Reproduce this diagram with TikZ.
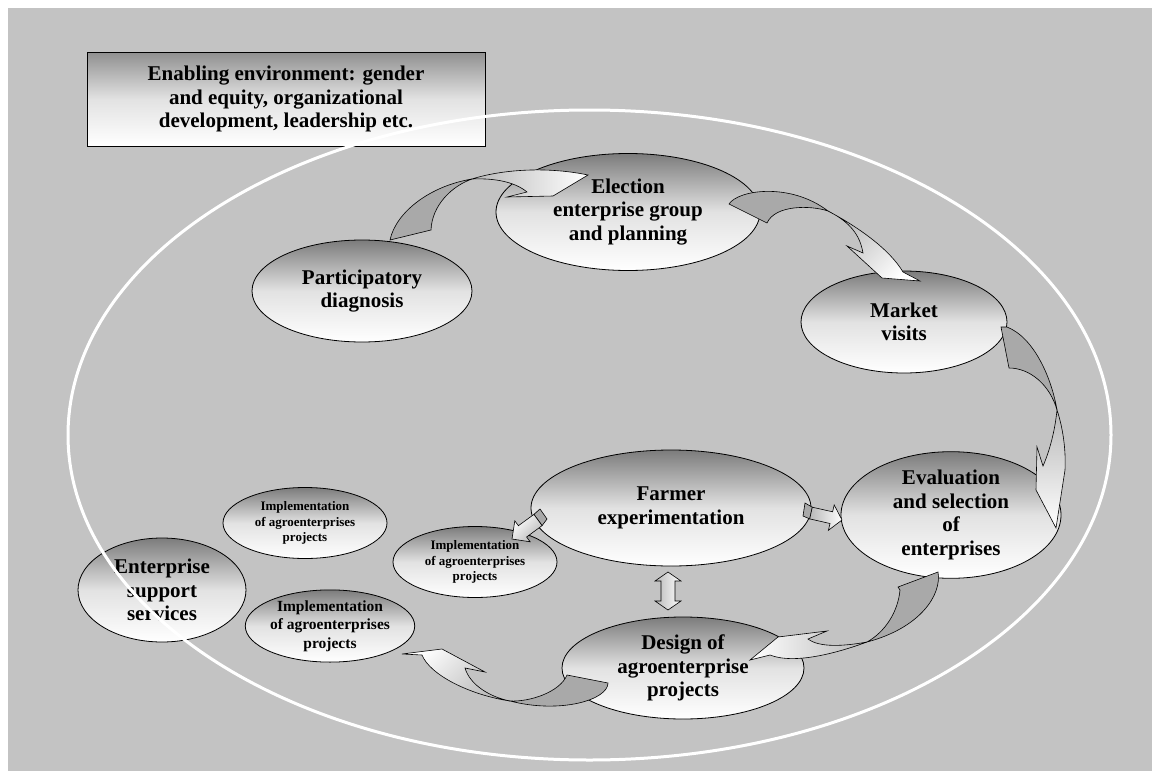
\documentclass[tikz,border=0pt]{standalone}
\usepackage{fontspec}
\setmainfont{Liberation Serif}
\usetikzlibrary{shapes.geometric}
\definecolor{Bg}{HTML}{C3C3C3}
\definecolor{Shade}{HTML}{7C7C7C}
\definecolor{Pale}{HTML}{E2E2E2}
\definecolor{Back}{HTML}{A9A9A9}
\definecolor{Mid}{HTML}{B8B8B8}

\begin{document}
\begin{tikzpicture}[x=1pt,y=-1pt,
    bubble/.style={ellipse,draw=black,line width=.8pt,inner sep=0pt,align=center,top color=Shade,bottom color=white,middle color=Pale,font=\fontsize{21}{23.5}\selectfont\bfseries},
    small/.style={bubble,minimum width=164,minimum height=71,font=\fontsize{13}{15.5}\selectfont\bfseries},
    panel/.style={rectangle,draw=black,line width=.8pt,minimum width=398,minimum height=94,align=center,top color=Shade!85,bottom color=white,middle color=Pale,font=\fontsize{21}{23.5}\selectfont\bfseries},
    back/.style={draw=black,line width=.6pt,fill=Back},
    front/.style={draw=black,line width=.6pt,top color=white,bottom color=Mid,shading angle=#1}]
    \useasboundingbox (0,0) rectangle (1152,771);
    \fill[Bg] (8,8) rectangle (1152,771);
    \node[panel] (enabling) at (286,99) {Enabling environment: gender\\and equity, organizational\\development, leadership etc.};
    \node[bubble,minimum width=220,minimum height=102] (diag) at (362,291) {Participatory\\diagnosis};
    \node[bubble,minimum width=264,minimum height=117] (elect) at (628,212) {Election\\enterprise group\\and planning};
    \node[bubble,minimum width=206,minimum height=102] (market) at (904,322) {Market\\visits};
    \node[bubble,minimum width=220,minimum height=126] (evalsel) at (951,515) {Evaluation\\and selection\\of\\enterprises};
    \node[bubble,minimum width=280,minimum height=116] (farmer) at (671,508) {Farmer\\experimentation};
    \node[bubble,minimum width=242,minimum height=102] (design) at (683,668) {Design of\\agroenterprise\\projects};
    \node[small] (implA) at (305,523) {Implementation\\of agroenterprises\\projects};
    \node[small] (implB) at (475,562) {Implementation\\of agroenterprises\\projects};
    \node[small,minimum height=72,font=\fontsize{15.5}{18.5}\selectfont\bfseries] (implC) at (330,626) {Implementation\\of agroenterprises\\projects};
    \node[bubble,minimum width=168,minimum height=104] (support) at (162,590) {Enterprise\\support\\services};
    % curved ribbons round the cycle
    \draw[back] (390,240) .. controls (396,212) and (430,186) .. (472,179) .. controls (452,186) and (432,205) .. (431,230) -- cycle;
    \draw[front=-90] (472,179) .. controls (500,170) and (545,166) .. (588,175) -- (553,196) -- (507,197) -- (527,192) .. controls (515,182) and (495,178) .. (472,179) -- cycle;
    \draw[back] (729,204) .. controls (738,190) and (790,182) .. (828,211) .. controls (810,205) and (775,205) .. (767,223) -- cycle;
    \draw[front=-135] (828,211) .. controls (860,228) and (890,250) .. (903,272) -- (920,281) -- (882,278) -- (847,246) -- (863,253) .. controls (860,235) and (850,222) .. (828,211) -- cycle;
    \draw[back] (1001,327) -- (1007,327) .. controls (1035,338) and (1052,380) .. (1057,410) .. controls (1050,385) and (1030,368) .. (1009,368) -- cycle;
    \draw[front=180] (1057,410) .. controls (1063,428) and (1066,450) .. (1065,470) -- (1056,528) -- (1036,490) -- (1037,447) -- (1043,466) .. controls (1050,450) and (1055,430) .. (1057,410) -- cycle;
    \draw[back] (938,572) .. controls (942,595) and (920,628) .. (867,642) .. controls (885,632) and (898,612) .. (900,590) -- (898,587) -- cycle;
    \draw[front=90] (867,642) .. controls (840,652) and (795,665) .. (770,655) -- (750,660) -- (778,637) -- (827,631) -- (808,639) .. controls (820,648) and (845,646) .. (867,642) -- cycle;
    \draw[back] (608,683) .. controls (608,700) and (560,714) .. (510,701) .. controls (530,702) and (560,692) .. (567,675) -- cycle;
    \draw[front=45] (510,701) .. controls (470,695) and (430,675) .. (422,655) -- (402,654) -- (442,649) -- (485,672) -- (465,668) .. controls (470,685) and (490,697) .. (510,701) -- cycle;
    % short block arrows
    \draw[back] (533.9,514.4) -- (540,509) -- (547,519) -- (542.1,525.6) -- cycle;
    \draw[front=45] (542.1,525.6) -- (526.6,537) -- (530.2,541.8) -- (512,539) -- (514.8,520.8) -- (518.4,525.7) -- (533.9,514.4) -- cycle;
    \draw[back] (805,503) -- (812.3,507.2) -- (809.7,518.9) -- (803,516) -- cycle;
    \draw[front=-90] (812.3,507.2) -- (832.6,511.8) -- (834.2,504.9) -- (842,520) -- (828.4,530.3) -- (830,523.5) -- (809.7,518.9) -- cycle;
    \draw[front=-90] (668,572) -- (681,581) -- (675,581) -- (675,601) -- (681,601) -- (668,610) -- (655,601) -- (661,601) -- (661,581) -- (655,581) -- cycle;
    \draw[white,line width=3pt] (589.5,435) ellipse [x radius=521.5,y radius=325];
  \end{tikzpicture}
\end{document}
